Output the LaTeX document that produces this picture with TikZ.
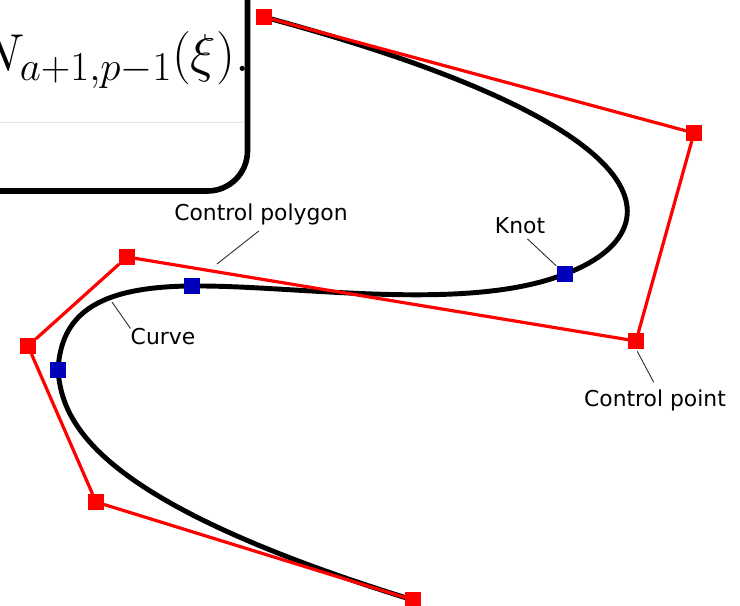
\documentclass[tikz,border=0pt]{standalone}
\usepackage{fix-cm}
\usepackage{amsmath}
\usepackage{fontspec}
\setmainfont{DejaVu Sans}
\usetikzlibrary{calc}
\DeclareMathSizes{40}{40}{30.8}{22}
\definecolor{ctrlred}{HTML}{FF0000}
\definecolor{knotblue}{HTML}{0000BB}
\definecolor{rulegray}{HTML}{E4E4E4}
\definecolor{leadgray}{HTML}{333333}
\tikzset{
  ctrl/.style   ={fill=ctrlred, minimum size=11.5pt, inner sep=0pt},
  knotpt/.style ={fill=knotblue, minimum size=11.5pt, inner sep=0pt},
  polyline/.style={draw=ctrlred, line width=2.4pt},
  curveline/.style={draw=black, line width=3.7pt},
  leader/.style ={draw=leadgray, line width=0.7pt},
  tag/.style    ={font=\fontsize{16.4}{19}\selectfont, text=black},
  panel/.style  ={draw=black, line width=4.2pt, rounded corners=30pt},
}
\begin{document}
\begin{tikzpicture}[x=0.75pt,y=-0.75pt]
    \clip (0,0) rectangle (740,606);
    % polygon corners
    \coordinate (C0) at (264,17);
    \coordinate (C1) at (694,133);
    \coordinate (C2) at (636,341);
    \coordinate (C3) at (127,257);
    \coordinate (C4) at (28,346);
    \coordinate (C5) at (96,502);
    \coordinate (C6) at (413,600);
    % knots
    \coordinate (K1) at (565,274);
    \coordinate (K2) at (192,286);
    \coordinate (K3) at (58,370);
    \draw[curveline] (C0)
      .. controls (C1) and ($(C1)!1/2!(C2)$) .. (K1)
      .. controls ($(C2)!1/3!(C3)$) and ($(C2)!2/3!(C3)$) .. (K2)
      .. controls ($(C3)!1/3!(C4)$) and ($(C3)!2/3!(C4)$) .. (K3)
      .. controls ($(C4)!1/2!(C5)$) and (C5) .. (C6);
    \node[ctrl] (P0) at (C0) {};
    \node[ctrl] (P1) at (C1) {};
    \node[ctrl] (P2) at (C2) {};
    \node[ctrl] (P3) at (C3) {};
    \node[ctrl] (P4) at (C4) {};
    \node[ctrl] (P5) at (C5) {};
    \node[ctrl] (P6) at (C6) {};
    \draw[polyline] (P0) -- (P1);   \draw[polyline] (P1) -- (P2);
    \draw[polyline] (P2) -- (P3);   \draw[polyline] (P3) -- (P4);
    \draw[polyline] (P4) -- (P5);   \draw[polyline] (P5) -- (P6);
    \node[knotpt] (N1) at (K1) {};
    \node[knotpt] (N2) at (K2) {};
    \node[knotpt] (N3) at (K3) {};
    % labels
    \node[tag] (lblPoly)  at (261,214) {Control polygon};
    \node[tag, inner sep=0pt] (lblCurve) at (163,337) {Curve};
    \node[tag] (lblKnot)  at (520,226) {Knot};
    \node[tag] (lblPoint) at (655,400) {Control point};
    \coordinate (tipPoly)  at (217,264);
    \coordinate (tipCurve) at (112,302);
    \draw[leader, shorten <=2pt] (lblPoly.south) -- (tipPoly);
    \draw[leader] (lblCurve.north west) -- (tipCurve);
    \draw[leader, shorten >=1pt] (lblKnot.-60) -- (N1);
    \draw[leader, shorten >=2pt, shorten <=2pt] (lblPoint.north) -- (P2.south);
    % inset
    \draw[rulegray, line width=0.7pt] (-60,122) -- (243,122);
    \node[anchor=base east, inner sep=0pt, font=\fontsize{40}{44}\selectfont] (formula) at (250,72)
      {$N_{a+1,p-1}(\xi).$};
    \draw[panel] (247.5,-60) -- (247.5,191) -- (-60,191);
\end{tikzpicture}
\end{document}
